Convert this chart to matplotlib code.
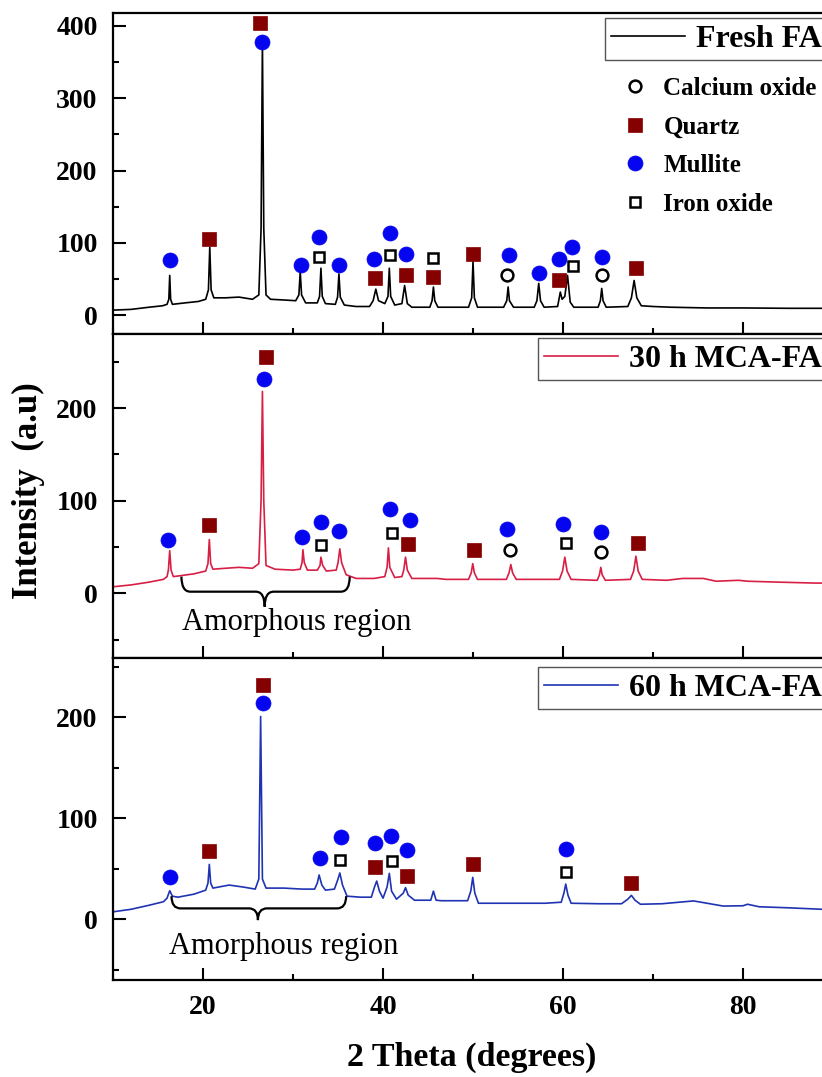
import matplotlib
matplotlib.use('Agg')
import matplotlib.pyplot as plt
from matplotlib.lines import Line2D
from matplotlib.path import Path
from matplotlib.patches import PathPatch
from matplotlib.ticker import MultipleLocator

plt.rcParams['font.family'] = ['Liberation Serif', 'DejaVu Serif']

# ---- XRD traces (2 theta, intensity) ----
fresh_x = [10.0, 12.0, 14.0, 15.5, 16.0, 16.2, 16.3, 16.4, 16.6, 18.0, 19.5, 20.3, 20.6, 20.75, 20.9,
           21.2, 22.5, 24.0, 25.5, 26.2, 26.45, 26.6, 26.75, 27.0, 27.5, 29.0, 30.3, 30.65, 30.8, 30.95,
           31.4, 32.7, 32.95, 33.1, 33.25, 33.6, 34.7, 34.95, 35.1, 35.25, 35.7, 37.0, 38.5, 38.9, 39.2,
           39.5, 40.2, 40.55, 40.7, 40.85, 41.3, 42.1, 42.4, 42.7, 43.2, 45.2, 45.45, 45.6, 45.75, 46.1,
           49.5, 49.85, 50.0, 50.15, 50.5, 53.4, 53.75, 53.9, 54.05, 54.5, 56.8, 57.1, 57.3, 57.5, 57.9,
           59.4, 59.7, 59.9, 60.2, 60.5, 60.8, 61.2, 63.9, 64.15, 64.3, 64.45, 64.8, 67.2, 67.6, 67.9,
           68.2, 68.7, 70.0, 72.0, 76.0, 80.0, 85.0, 90.0]
fresh_y = [7, 8, 11, 13, 15, 22, 55, 22, 15, 17, 19, 22, 35, 94, 35,
           24, 24, 25, 22, 28, 120, 378, 120, 28, 22, 21, 20, 28, 60, 28,
           17, 17, 26, 65, 26, 16, 15, 25, 57, 25, 14, 12, 12, 20, 36,
           20, 16, 26, 65, 26, 14, 16, 41, 16, 11, 11, 20, 39, 20, 11,
           11, 24, 74, 24, 11, 11, 20, 39, 20, 11, 11, 20, 44, 20, 11,
           12, 32, 22, 26, 55, 18, 11, 11, 20, 37, 20, 11, 12, 24, 48,
           24, 13, 12, 11, 10, 10, 9.5, 9.5]

mca30_x = [10.0, 12.0, 14.0, 15.6, 16.0, 16.15, 16.3, 16.45, 16.7, 17.5, 19.0, 20.3, 20.55, 20.7, 20.85,
           21.1, 22.5, 24.0, 25.5, 26.2, 26.45, 26.6, 26.75, 27.0, 28.0, 30.0, 30.8, 31.0, 31.1, 31.25,
           31.6, 32.7, 33.0, 33.1, 33.3, 33.7, 34.8, 35.0, 35.2, 35.4, 35.9, 37.0, 39.0, 40.2, 40.45,
           40.6, 40.75, 41.3, 42.1, 42.3, 42.5, 42.7, 43.2, 46.0, 47.0, 49.5, 49.8, 49.97, 50.15, 50.5,
           53.7, 54.0, 54.2, 54.4, 54.8, 59.6, 59.95, 60.2, 60.45, 60.9, 63.8, 64.05, 64.2, 64.35, 64.7,
           67.5, 67.85, 68.1, 68.35, 68.8, 71.5, 73.3, 75.6, 77.0, 79.5, 80.5, 84.0, 88.0, 90.0]
mca30_y = [7, 9, 12, 15, 18, 25, 46, 25, 18, 19, 21, 24, 32, 58, 32,
           26, 27, 28, 27, 32, 100, 218, 100, 30, 26, 25, 26, 33, 47, 33,
           25, 25, 30, 39, 30, 24, 25, 33, 48, 33, 20, 16, 16, 18, 28,
           49, 28, 17, 18, 25, 39, 25, 16, 16, 15, 15, 22, 32, 22, 15,
           15, 22, 31, 22, 15, 15, 24, 39, 24, 15, 14, 20, 28, 20, 14,
           15, 24, 40, 24, 15, 14, 16, 16, 13, 14, 13, 12, 11, 11]

mca60_x = [10.0, 12.0, 14.0, 15.6, 16.0, 16.3, 16.6, 17.2, 19.0, 20.3, 20.55, 20.7, 20.85, 21.1, 22.9,
           24.5, 25.8, 26.2, 26.4, 26.6, 27.0, 29.0, 31.0, 32.4, 32.7, 32.9, 33.2, 33.6, 34.6, 35.0,
           35.2, 35.5, 36.0, 37.5, 38.7, 39.05, 39.3, 39.6, 40.0, 40.45, 40.7, 40.95, 41.5, 42.25, 42.5,
           42.8, 43.5, 45.3, 45.6, 45.9, 46.5, 49.4, 49.75, 49.97, 50.2, 50.6, 53.0, 58.0, 59.8, 60.1,
           60.3, 60.55, 60.9, 64.0, 66.5, 67.2, 67.6, 68.0, 68.6, 71.0, 74.5, 76.0, 77.8, 80.0, 80.5,
           81.8, 85.0, 88.8, 90.0]
mca60_y = [7.5, 10, 14, 17.5, 21, 28.4, 23, 22, 25, 29, 36, 54.5, 36, 31, 34,
           32, 30, 40, 201, 40, 31, 31, 30, 30, 36, 44, 34, 29, 30, 40,
           46, 34, 23, 22, 22, 32, 38, 28, 21, 32, 45.6, 28, 20, 26, 31.4,
           24, 19, 19, 28, 19, 18.5, 18.5, 28, 41.6, 26, 16, 16, 16, 17, 26,
           35, 24, 16, 15.5, 15.5, 20, 23.8, 19, 15, 15.5, 18.3, 16, 13.2, 13.5, 15,
           12.5, 11.5, 10, 10]

# ---- phase identification markers (2 theta, marker height) ----
fresh_cao_x = [53.8, 64.3]
fresh_cao_y = [55, 56]
fresh_quartz_x = [20.7, 26.3, 39.1, 42.5, 45.6, 50.0, 59.6, 68.1]
fresh_quartz_y = [106, 404, 51, 56, 53, 85, 48, 65.5]
fresh_mullite_x = [16.3, 26.6, 30.9, 32.9, 35.1, 39.0, 40.8, 42.6, 54.0, 57.3, 59.5, 61.0, 64.3]
fresh_mullite_y = [76, 378, 70, 107.5, 70, 77, 113, 85, 83, 58, 77, 94.5, 81]
fresh_iron_x = [32.9, 40.8, 45.6, 61.1]
fresh_iron_y = [80, 83, 79, 68]

mca30_cao_x = [54.1, 64.2]
mca30_cao_y = [47, 45]
mca30_quartz_x = [20.7, 27.0, 42.8, 50.1, 68.3]
mca30_quartz_y = [74, 255, 53, 47, 54]
mca30_mullite_x = [16.1, 26.8, 31.0, 33.1, 35.1, 40.8, 43.0, 53.8, 60.0, 64.2]
mca30_mullite_y = [58, 232, 60.5, 77, 67, 91, 79, 69, 74.6, 66.6]
mca30_iron_x = [33.1, 41.0, 60.3]
mca30_iron_y = [52, 65.5, 54]

mca60_cao_x = []
mca60_cao_y = []
mca60_quartz_x = [20.7, 26.7, 39.1, 42.7, 50.0, 67.6]
mca60_quartz_y = [67.8, 232.5, 52, 43, 54.6, 35.7]
mca60_mullite_x = [16.3, 26.7, 33.0, 35.3, 39.1, 40.9, 42.7, 60.3]
mca60_mullite_y = [42.3, 214, 60.5, 82, 75.4, 83, 68.8, 69.4]
mca60_iron_x = [35.2, 41.0, 60.3]
mca60_iron_y = [59, 58, 47.2]

phase_names = ['Calcium oxide', 'Quartz', 'Mullite', 'Iron oxide']
phase_style = {
    'Calcium oxide': dict(marker='o', ms=8.5, mfc='white', mec='black', mew=1.8),
    'Quartz': dict(marker='s', ms=9.5, mfc='#850000', mec='#850000', mew=0.5),
    'Mullite': dict(marker='o', ms=10.8, mfc='#0505f0', mec='#0505f0', mew=0.5),
    'Iron oxide': dict(marker='s', ms=6.8, mfc='white', mec='black', mew=1.8),
}

panels = [
    dict(label='Fresh FA', color='black', x=fresh_x, y=fresh_y,
         phases=[(fresh_cao_x, fresh_cao_y), (fresh_quartz_x, fresh_quartz_y),
                 (fresh_mullite_x, fresh_mullite_y), (fresh_iron_x, fresh_iron_y)],
         ylim=(-26, 418), yticks=[0, 100, 200, 300, 400], pos=[0.1375, 0.6899, 0.8759, 0.2981],
         leg_y=0.984, brace=None),
    dict(label='30 h MCA-FA', color='#d81e45', x=mca30_x, y=mca30_y,
         phases=[(mca30_cao_x, mca30_cao_y), (mca30_quartz_x, mca30_quartz_y),
                 (mca30_mullite_x, mca30_mullite_y), (mca30_iron_x, mca30_iron_y)],
         ylim=(-70, 280), yticks=[0, 100, 200], pos=[0.1375, 0.3890, 0.8759, 0.3008],
         leg_y=0.988, brace=(17.6, 36.3, 26.85, 18, 1.7, -14.5, 30.4, -32)),
    dict(label='60 h MCA-FA', color='#1f33b3', x=mca60_x, y=mca60_y,
         phases=[(mca60_cao_x, mca60_cao_y), (mca60_quartz_x, mca60_quartz_y),
                 (mca60_mullite_x, mca60_mullite_y), (mca60_iron_x, mca60_iron_y)],
         ylim=(-60, 259), yticks=[0, 100, 200], pos=[0.1375, 0.0901, 0.8759, 0.2990],
         leg_y=0.972, brace=(16.5, 35.9, 26.1, 23, 10.9, -0.7, 29.0, -27)),
]

fig = plt.figure(figsize=(8.22, 10.77), dpi=100)


def draw_brace(ax, x0, x1, xc, ytop, ymid, ybot, r=1.0):
    verts = [(x0, ytop), (x0, ymid), (x0 + r, ymid), (xc - r, ymid),
             (xc, ymid), (xc, ybot), (xc, ymid), (xc + r, ymid),
             (x1 - r, ymid), (x1, ymid), (x1, ytop)]
    codes = [Path.MOVETO, Path.CURVE3, Path.CURVE3, Path.LINETO,
             Path.CURVE3, Path.CURVE3, Path.CURVE3, Path.CURVE3,
             Path.LINETO, Path.CURVE3, Path.CURVE3]
    ax.add_patch(PathPatch(Path(verts, codes), fc='none', ec='black', lw=1.6, zorder=2))


for i, p in enumerate(panels):
    ax = fig.add_axes(p['pos'])
    line, = ax.plot(p['x'], p['y'], color=p['color'], lw=1.2, zorder=2)
    for name, (px, py) in zip(phase_names, p['phases']):
        if px:
            ax.plot(px, py, ls='none', zorder=3, **phase_style[name])

    ax.set_xlim(10, 90)
    ax.set_ylim(*p['ylim'])
    ax.set_yticks(p['yticks'])
    ax.yaxis.set_minor_locator(MultipleLocator(50))
    ax.xaxis.set_major_locator(MultipleLocator(20))
    ax.xaxis.set_minor_locator(MultipleLocator(10))
    ax.tick_params(which='both', direction='in', top=False, right=False, width=1.5)
    ax.tick_params(which='major', length=9, pad=11, labelsize=20)
    ax.tick_params(which='minor', length=4.5)
    for lab in ax.get_yticklabels() + ax.get_xticklabels():
        lab.set_fontweight('bold')
    if i < 2:
        ax.tick_params(axis='x', labelbottom=False)
    for s in ax.spines.values():
        s.set_linewidth(1.6)

    leg = ax.legend([line], [p['label']], loc='upper right', bbox_to_anchor=(0.993, p['leg_y']),
                    borderaxespad=0, borderpad=0.2, handlelength=2.3, handletextpad=0.35,
                    fancybox=False, framealpha=1, edgecolor='#555555',
                    prop=dict(family='Liberation Serif', weight='bold', size=23))
    leg.get_frame().set_linewidth(1.0)

    if i == 0:
        ax.add_artist(leg)
        handles = [Line2D([], [], ls='none', **phase_style[n]) for n in phase_names]
        ax.legend(handles, phase_names, loc='upper left', bbox_to_anchor=(0.707, 0.80),
                  frameon=False, borderpad=0, borderaxespad=0, handlelength=1.0,
                  handletextpad=0.65, labelspacing=0.62,
                  prop=dict(family='Liberation Serif', weight='bold', size=18))

    if p['brace']:
        x0, x1, xc, ytop, ymid, ybot, tx, ty = p['brace']
        draw_brace(ax, x0, x1, xc, ytop, ymid, ybot)
        ax.text(tx, ty, 'Amorphous region', ha='center', va='center', fontsize=22)

fig.text(28 / 822, 1 - 491 / 1077, 'Intensity  (a.u)', rotation=90, ha='center', va='center',
         fontsize=25, fontweight='bold')
fig.text(472 / 822, 1 - 1057 / 1077, '2 Theta (degrees)', ha='center', va='center',
         fontsize=24.5, fontweight='bold')

fig.savefig('out.png', dpi=100)
